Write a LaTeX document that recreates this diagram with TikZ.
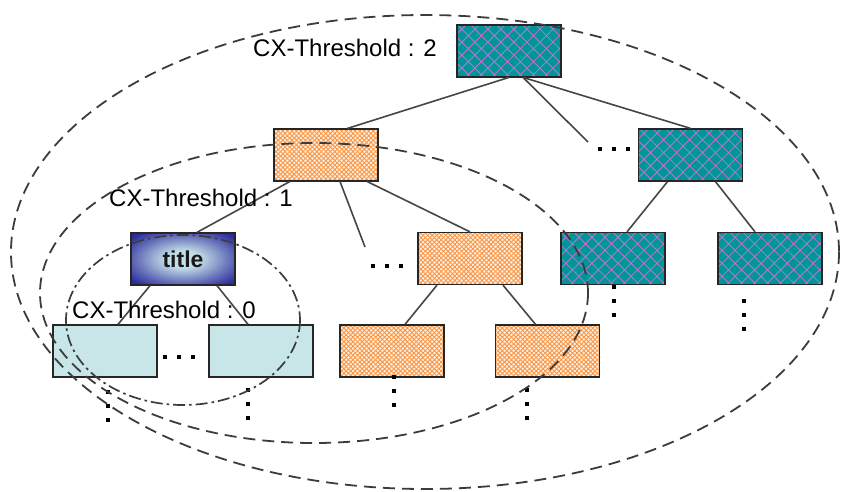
\documentclass[tikz,border=0pt]{standalone}
\usepackage{fontspec}
\setmainfont{Liberation Sans}
\usetikzlibrary{patterns.meta,calc}

\definecolor{tealfill}{RGB}{0,150,150}
\definecolor{tealhatch}{RGB}{200,110,215}
\definecolor{orangehatch}{RGB}{250,150,70}
\definecolor{orangebg}{RGB}{255,240,225}
\definecolor{leaffill}{RGB}{200,230,232}
\definecolor{titleout}{RGB}{45,45,155}
\definecolor{titlein}{RGB}{195,222,232}
\definecolor{linegray}{RGB}{70,70,70}
\definecolor{ringgray}{RGB}{60,60,60}

% light centre fading to a dark rim, stretched over the whole box
\pgfdeclareradialshading{titleglow}{\pgfpoint{0bp}{0bp}}{%
  color(0bp)=(titlein); color(8bp)=(titlein); color(22bp)=(titleout!60!titlein);
  color(32bp)=(titleout); color(50bp)=(titleout)}

\tikzset{
  box/.style={draw=black!85, line width=1.3pt, minimum width=104pt, minimum height=52pt, inner sep=0pt},
  tealbox/.style={box, pattern={Hatch[angle=45,distance=9.2pt,line width=0.8pt]}, pattern color=tealhatch, preaction={fill=tealfill}},
  orangebox/.style={box, pattern={Hatch[angle=45,distance=3.2pt,line width=0.9pt]}, pattern color=orangehatch, preaction={fill=orangebg}},
  leafbox/.style={box, fill=leaffill},
  titlebox/.style={box, shading=titleglow, font=\fontsize{23}{26}\selectfont\bfseries, text=black!90},
  link/.style={draw=linegray, line width=1.6pt},
  ring/.style={draw=ringgray, line width=1.8pt, dash pattern=on 12pt off 7pt},
  dotring/.style={draw=ringgray, line width=1.7pt, dash pattern=on 12pt off 4pt on 2.5pt off 4pt},
  cxlabel/.style={inner sep=0pt, font=\fontsize{24}{28}\selectfont},
  hdots/.pic={\foreach \i in {-14,0,14} \fill (\i-1.9,-1.9) rectangle (\i+1.9,1.9);},
  vdots/.pic={\foreach \j in {0,14,28} \fill (-1.9,\j-1.9) rectangle (1.9,\j+1.9);}
}

\begin{document}
\begin{tikzpicture}[x=1pt,y=-1pt]
\useasboundingbox (0,0) rectangle (841,491);
\fill[white] (0,0) rectangle (841,491);

% tree nodes
\node[tealbox]   (root) at (509,51)    {};
\node[orangebox] (o1)   at (326,155)   {};
\node[tealbox]   (t1)   at (690.5,155) {};
\node[titlebox]  (ttl)  at (183,259)   {title};
\node[orangebox] (o2)   at (470,258.5) {};
\node[tealbox]   (t2l)  at (613,258.5) {};
\node[tealbox]   (t2r)  at (770,258.5) {};
\node[leafbox]   (c1)   at (105,351)   {};
\node[leafbox]   (c2)   at (261,351)   {};
\node[orangebox] (o3l)  at (392,351)   {};
\node[orangebox] (o3r)  at (547.5,351) {};

% elided siblings
\pic at (614,149) {hdots};
\pic at (387,266) {hdots};
\pic at (179,357) {hdots};
\coordinate (e1) at (588,142);
\coordinate (e2) at (365,247);

% elided descendants
\pic at (108,392) {vdots};
\pic at (248,390) {vdots};
\pic at (394,377) {vdots};
\pic at (527,390) {vdots};
\pic at (614,287) {vdots};
\pic at (744,301) {vdots};

% connectors
\draw[link] (root.south) -- ($(o1.north)+(21,0)$);
\draw[link] ($(root.south)+(14,0)$) -- (t1.north);
\draw[link] ($(root.south)+(14,0)$) -- (e1);
\draw[link] ($(o1.south)+(-36,0)$) -- ($(ttl.north)+(14,0)$);
\draw[link] ($(o1.south)+(14,0)$) -- (e2);
\draw[link] ($(o1.south)+(41,0)$) -- (o2.north);
\draw[link] ($(t1.south)+(-23,0)$) -- ($(t2l.north)+(14,0)$);
\draw[link] ($(t1.south)+(25,0)$) -- ($(t2r.north)+(-15,0)$);
\draw[link] ($(ttl.south)+(-33,0)$) -- ($(c1.north)+(13,0)$);
\draw[link] ($(ttl.south)+(34,0)$) -- ($(c2.north)+(-13,0)$);
\draw[link] ($(o2.south)+(-33,0)$) -- ($(o3l.north)+(13,0)$);
\draw[link] ($(o2.south)+(33,0)$) -- ($(o3r.north)+(-12,0)$);

% threshold labels
\node[cxlabel] (lab2) at (345,48)  {CX-Threshold : 2};
\node[cxlabel] (lab1) at (201,198) {CX-Threshold : 1};
\node[cxlabel] (lab0) at (164,310) {CX-Threshold : 0};

% threshold regions
\draw[ring]    (425,252) ellipse [x radius=414, y radius=237];
\draw[ring]    (314,293) ellipse [x radius=274, y radius=150];
\draw[dotring] (183,320) ellipse [x radius=117, y radius=85];
\end{tikzpicture}
\end{document}
